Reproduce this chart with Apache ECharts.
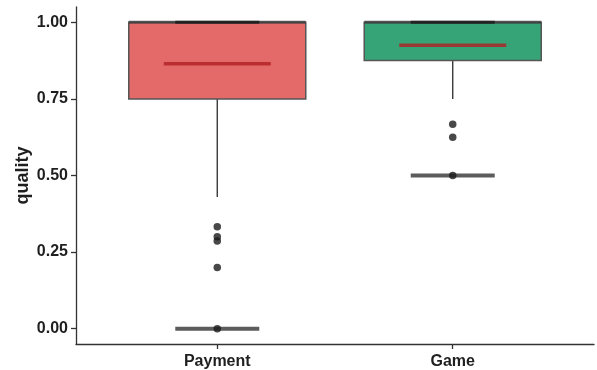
<!DOCTYPE html>
<html>
<head>
<meta charset="utf-8">
<script src="https://cdn.jsdelivr.net/npm/echarts@6/dist/echarts.min.js"></script>
<style>
  html, body { margin: 0; padding: 0; background: #fff; }
  #chart { width: 597px; height: 370px; }
</style>
</head>
<body>
<div id="chart"></div>
<script>
// data
var categories = ['Payment', 'Game'];
var boxColors = ['#e46a6a', '#37a477'];
var whiskerLow = [0.43, 0.75];
var q1 = [0.75, 0.875];
var median = [1, 1];
var q3 = [1, 1];
var means = [0.865, 0.925];
var outliersPayment = [0.333, 0.3, 0.286, 0.2, 0];
var outliersGame = [0.667, 0.625, 0.5];
var floorLines = [0, 0.5];
var topLines = [1, 1];
var yTicks = [0, 0.25, 0.5, 0.75, 1];

(function(){
    var myChart = echarts.init(document.getElementById('chart'));
    var labelFont = 'Liberation Sans, Arial, sans-serif';

    var whiskers = categories.map(function(c, i){
        return {
            type: 'line',
            data: [[i + 1, whiskerLow[i]], [i + 1, q1[i]]],
            symbol: 'none',
            lineStyle: { color: '#3a3a3a', width: 1.4 },
            z: 2
        };
    });

    var option = {
        animation: false,
        grid: { left: 76, right: 3, top: 7, bottom: 25 },
        xAxis: {
            type: 'value',
            min: 0.4,
            max: 2.6,
            splitLine: { show: false },
            axisLine: { onZero: false, lineStyle: { color: '#333', width: 1.3 } },
            axisTick: { customValues: [1, 2], length: 5, lineStyle: { color: '#333', width: 1.3 } },
            axisLabel: {
                customValues: [1, 2],
                margin: 10,
                color: '#1f1f1f',
                fontSize: 16,
                fontWeight: 'bold',
                fontFamily: labelFont,
                formatter: function(v){ return categories[Math.round(v) - 1]; }
            }
        },
        yAxis: {
            type: 'value',
            min: -0.05,
            max: 1.05,
            name: 'quality',
            nameLocation: 'middle',
            nameGap: 44,
            nameMoveOverlap: false,
            nameTextStyle: { color: '#1f1f1f', fontSize: 18, fontWeight: 'bold', fontFamily: labelFont },
            splitLine: { show: false },
            axisLine: { show: true, onZero: false, lineStyle: { color: '#333', width: 1.3 } },
            axisTick: { show: true, customValues: yTicks, length: 5, lineStyle: { color: '#333', width: 1.3 } },
            axisLabel: {
                customValues: yTicks,
                margin: 8,
                color: '#1f1f1f',
                fontSize: 16,
                fontWeight: 'bold',
                fontFamily: labelFont,
                formatter: function(v){ return v.toFixed(2); }
            }
        },
        series: whiskers.concat([
            {
                type: 'boxplot',
                boxWidth: [177, 177],
                z: 3,
                itemStyle: { borderColor: '#555', borderWidth: 1.5 },
                data: categories.map(function(c, i){
                    return {
                        value: [i + 1, q1[i], q1[i], median[i], q3[i], q3[i]],
                        itemStyle: { color: boxColors[i], borderColor: '#555', borderWidth: 1.5 }
                    };
                })
            },
            {
                // median sits on the top edge of the box
                type: 'scatter',
                symbol: 'rect',
                symbolSize: [177, 3],
                itemStyle: { color: '#3d3d3d' },
                z: 4,
                data: median.map(function(v, i){ return [i + 1, v]; })
            },
            {
                // dark band where the values pile up at 1.00
                type: 'scatter',
                symbol: 'rect',
                symbolSize: [84, 3],
                itemStyle: { color: '#1a1a1a' },
                z: 5,
                data: topLines.map(function(v, i){ return [i + 1, v]; })
            },
            {
                // red line in the box
                type: 'scatter',
                symbol: 'rect',
                symbolSize: [107, 3.5],
                itemStyle: { color: '#b01f22' },
                z: 4,
                data: means.map(function(v, i){ return [i + 1, v]; })
            },
            {
                type: 'scatter',
                symbol: 'rect',
                symbolSize: [84, 4],
                itemStyle: { color: '#333' },
                z: 4,
                data: floorLines.map(function(v, i){ return [i + 1, v]; })
            },
            {
                type: 'scatter',
                symbol: 'circle',
                symbolSize: 7.5,
                itemStyle: { color: '#1a1a1a' },
                z: 5,
                data: outliersPayment.map(function(v){ return [1, v]; })
                    .concat(outliersGame.map(function(v){ return [2, v]; }))
            }
        ])
    };
    myChart.setOption(option);
    window.addEventListener('resize', function(){
        myChart.resize();
    });
})();
</script>
</body>
</html>
